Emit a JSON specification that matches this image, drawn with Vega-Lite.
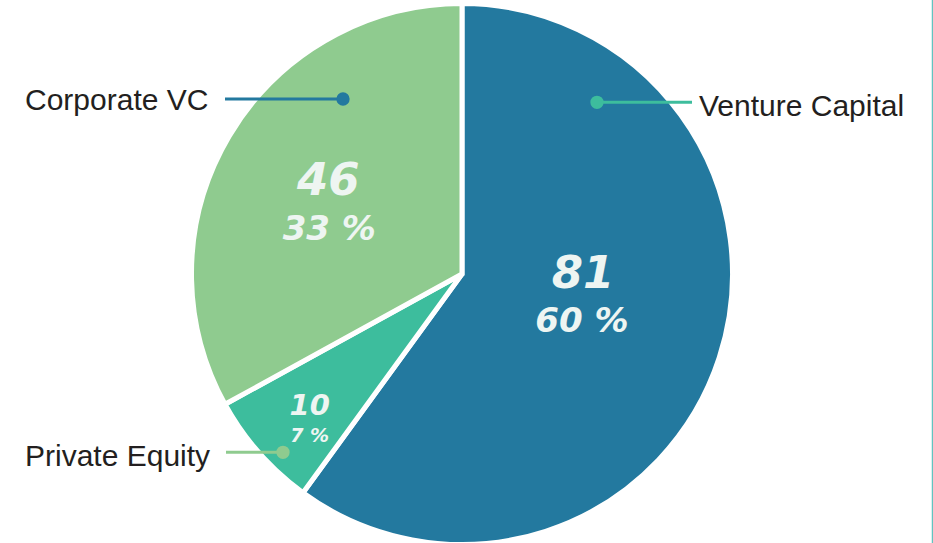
{
  "$schema": "https://vega.github.io/schema/vega-lite/v6.json",
  "width": 924,
  "height": 538,
  "padding": {"left": 0, "top": 5, "right": 9, "bottom": 0},
  "autosize": {"type": "none"},
  "background": "white",
  "config": {"view": {"stroke": null}, "text": {"font": "Liberation Sans"}},
  "data": {
    "values": [
      {"category": "Venture Capital", "value": 81, "share": 60, "share_label": "60 %"},
      {"category": "Private Equity", "value": 10, "share": 7, "share_label": "7 %"},
      {"category": "Corporate VC", "value": 46, "share": 33, "share_label": "33 %"}
    ]
  },
  "layer": [
    {
      "mark": {"type": "arc", "outerRadius": 270.5, "stroke": "white", "strokeWidth": 5},
      "encoding": {
        "theta": {"field": "share", "type": "quantitative", "stack": true},
        "order": {"field": "category", "type": "nominal", "sort": "descending"},
        "color": {
          "field": "category",
          "type": "nominal",
          "scale": {"domain": ["Venture Capital", "Private Equity", "Corporate VC"], "range": ["#23799f", "#3dbd9d", "#8fcb8f"]},
          "legend": null
        }
      }
    },
    {
      "mark": {"type": "text", "radius": 123, "dx": 4, "dy": -24, "font": "DejaVu Sans", "fontSize": 45, "fontWeight": "bold", "fontStyle": "italic", "fill": "#eef5f2", "align": "center", "baseline": "alphabetic"},
      "encoding": {
        "theta": {"field": "share", "type": "quantitative", "stack": true},
        "order": {"field": "category", "type": "nominal", "sort": "descending"},
        "detail": {"field": "category", "type": "nominal"},
        "text": {"condition": {"test": "datum.category === 'Venture Capital'", "field": "value", "type": "quantitative"}, "value": ""}
      }
    },
    {
      "mark": {"type": "text", "radius": 123, "dx": 3, "dy": 20, "font": "DejaVu Sans", "fontSize": 34, "fontWeight": "bold", "fontStyle": "italic", "fill": "#eef5f2", "align": "center", "baseline": "alphabetic"},
      "encoding": {
        "theta": {"field": "share", "type": "quantitative", "stack": true},
        "order": {"field": "category", "type": "nominal", "sort": "descending"},
        "detail": {"field": "category", "type": "nominal"},
        "text": {"condition": {"test": "datum.category === 'Venture Capital'", "field": "share_label", "type": "nominal"}, "value": ""}
      }
    },
    {
      "mark": {"type": "text", "radius": 160, "dx": 4, "dy": 2, "font": "DejaVu Sans", "fontSize": 45, "fontWeight": "bold", "fontStyle": "italic", "fill": "#eef5f2", "align": "center", "baseline": "alphabetic"},
      "encoding": {
        "theta": {"field": "share", "type": "quantitative", "stack": true},
        "order": {"field": "category", "type": "nominal", "sort": "descending"},
        "detail": {"field": "category", "type": "nominal"},
        "text": {"condition": {"test": "datum.category === 'Corporate VC'", "field": "value", "type": "quantitative"}, "value": ""}
      }
    },
    {
      "mark": {"type": "text", "radius": 160, "dx": 5, "dy": 47, "font": "DejaVu Sans", "fontSize": 34, "fontWeight": "bold", "fontStyle": "italic", "fill": "#eef5f2", "align": "center", "baseline": "alphabetic"},
      "encoding": {
        "theta": {"field": "share", "type": "quantitative", "stack": true},
        "order": {"field": "category", "type": "nominal", "sort": "descending"},
        "detail": {"field": "category", "type": "nominal"},
        "text": {"condition": {"test": "datum.category === 'Corporate VC'", "field": "share_label", "type": "nominal"}, "value": ""}
      }
    },
    {
      "mark": {"type": "text", "radius": 207, "dx": 3, "dy": 4, "font": "DejaVu Sans", "fontSize": 29, "fontWeight": "bold", "fontStyle": "italic", "fill": "#eef5f2", "align": "center", "baseline": "alphabetic"},
      "encoding": {
        "theta": {"field": "share", "type": "quantitative", "stack": true},
        "order": {"field": "category", "type": "nominal", "sort": "descending"},
        "detail": {"field": "category", "type": "nominal"},
        "text": {"condition": {"test": "datum.category === 'Private Equity'", "field": "value", "type": "quantitative"}, "value": ""}
      }
    },
    {
      "mark": {"type": "text", "radius": 207, "dx": 3, "dy": 31, "font": "DejaVu Sans", "fontSize": 19, "fontWeight": "bold", "fontStyle": "italic", "fill": "#eef5f2", "align": "center", "baseline": "alphabetic"},
      "encoding": {
        "theta": {"field": "share", "type": "quantitative", "stack": true},
        "order": {"field": "category", "type": "nominal", "sort": "descending"},
        "detail": {"field": "category", "type": "nominal"},
        "text": {"condition": {"test": "datum.category === 'Private Equity'", "field": "share_label", "type": "nominal"}, "value": ""}
      }
    },
    {
      "transform": [{"filter": "datum.category === 'Corporate VC'"}],
      "layer": [
        {
          "mark": {"type": "rule", "color": "#23799f", "strokeWidth": 3},
          "encoding": {
            "x": {"datum": -88.43, "type": "quantitative", "scale": {"domain": [-172.388, 172.388], "nice": false, "zero": false}, "axis": null},
            "x2": {"datum": -44.4},
            "y": {"datum": 65.3, "type": "quantitative", "scale": {"domain": [-100.373, 100.373], "nice": false, "zero": false}, "axis": null}
          }
        },
        {
          "mark": {"type": "point", "filled": true, "size": 177, "color": "#23799f", "opacity": 1},
          "encoding": {
            "x": {"datum": -44.4, "type": "quantitative", "axis": null},
            "y": {"datum": 65.3, "type": "quantitative", "axis": null}
          }
        },
        {
          "mark": {"type": "text", "align": "left", "baseline": "alphabetic", "fontSize": 30, "fill": "#231f20"},
          "encoding": {
            "x": {"datum": -163.06, "type": "quantitative", "axis": null},
            "y": {"datum": 61.38, "type": "quantitative", "axis": null},
            "text": {"field": "category", "type": "nominal"}
          }
        }
      ]
    },
    {
      "transform": [{"filter": "datum.category === 'Venture Capital'"}],
      "layer": [
        {
          "mark": {"type": "rule", "color": "#3dbd9d", "strokeWidth": 3},
          "encoding": {
            "x": {"datum": 50.37, "type": "quantitative", "axis": null},
            "x2": {"datum": 85.82},
            "y": {"datum": 64.07, "type": "quantitative", "axis": null}
          }
        },
        {
          "mark": {"type": "point", "filled": true, "size": 177, "color": "#3dbd9d", "opacity": 1},
          "encoding": {
            "x": {"datum": 50.37, "type": "quantitative", "axis": null},
            "y": {"datum": 64.07, "type": "quantitative", "axis": null}
          }
        },
        {
          "mark": {"type": "text", "align": "left", "baseline": "alphabetic", "fontSize": 30, "fill": "#231f20"},
          "encoding": {
            "x": {"datum": 88.43, "type": "quantitative", "axis": null},
            "y": {"datum": 59.14, "type": "quantitative", "axis": null},
            "text": {"field": "category", "type": "nominal"}
          }
        }
      ]
    },
    {
      "transform": [{"filter": "datum.category === 'Private Equity'"}],
      "layer": [
        {
          "mark": {"type": "rule", "color": "#8fcb8f", "strokeWidth": 3},
          "encoding": {
            "x": {"datum": -88.06, "type": "quantitative", "axis": null},
            "x2": {"datum": -66.79},
            "y": {"datum": -66.53, "type": "quantitative", "axis": null}
          }
        },
        {
          "mark": {"type": "point", "filled": true, "size": 177, "color": "#8fcb8f", "opacity": 1},
          "encoding": {
            "x": {"datum": -66.79, "type": "quantitative", "axis": null},
            "y": {"datum": -66.53, "type": "quantitative", "axis": null}
          }
        },
        {
          "mark": {"type": "text", "align": "left", "baseline": "alphabetic", "fontSize": 30, "fill": "#231f20"},
          "encoding": {
            "x": {"datum": -163.06, "type": "quantitative", "axis": null},
            "y": {"datum": -71.64, "type": "quantitative", "axis": null},
            "text": {"field": "category", "type": "nominal"}
          }
        }
      ]
    },
    {
      "data": {"values": [{"edge": "frame"}]},
      "mark": {"type": "rule", "color": "#62c3c0", "strokeWidth": 1.5},
      "encoding": {
        "x": {"datum": 175.56, "type": "quantitative", "axis": null},
        "y": {"datum": -100.373, "type": "quantitative", "axis": null},
        "y2": {"datum": 102.24}
      }
    }
  ]
}
